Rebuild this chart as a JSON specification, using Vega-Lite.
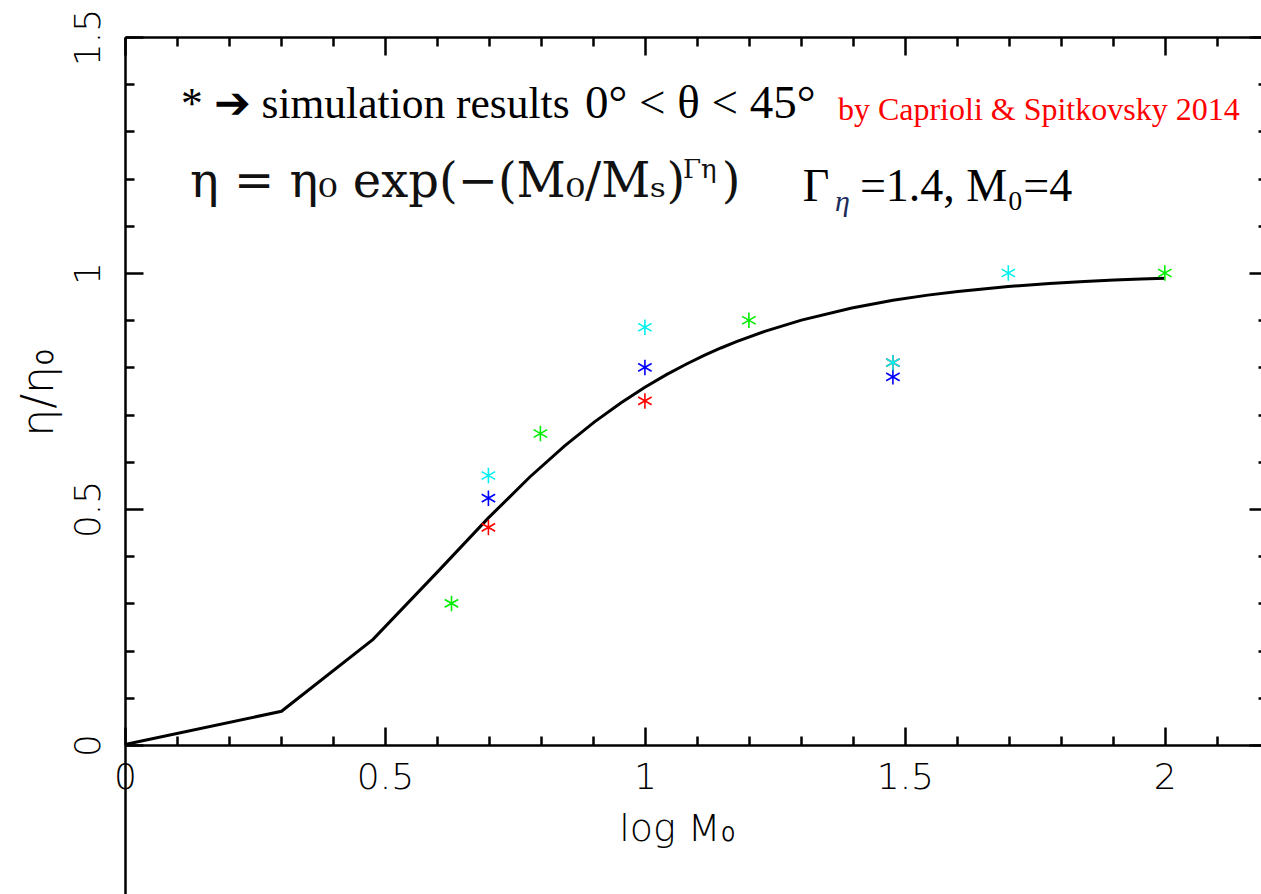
{
  "$schema": "https://vega.github.io/schema/vega-lite/v6.json",
  "autosize": "none",
  "width": 1136,
  "height": 857,
  "padding": {"left": 125, "top": 37, "right": 0, "bottom": 0},
  "background": "white",
  "config": {
    "view": {"stroke": null},
    "axis": {
      "grid": false,
      "domainColor": "black",
      "tickColor": "black",
      "domainWidth": 2.5,
      "tickWidth": 2.5,
      "labelColor": "black",
      "titleColor": "black",
      "labelFont": "DejaVu Sans",
      "titleFont": "DejaVu Sans",
      "labelFontWeight": 300,
      "titleFontWeight": 300,
      "labelFlush": false,
      "labelOverlap": false
    }
  },
  "data": {"values": [{}]},
  "datasets": {
    "curve": [
      {"logM": 0, "eta": 0.001},
      {"logM": 0.30103, "eta": 0.0714},
      {"logM": 0.47712, "eta": 0.2237},
      {"logM": 0.60206, "eta": 0.3679},
      {"logM": 0.69897, "eta": 0.4811},
      {"logM": 0.77815, "eta": 0.5673},
      {"logM": 0.8451, "eta": 0.6333},
      {"logM": 0.90309, "eta": 0.6846},
      {"logM": 0.95424, "eta": 0.7252},
      {"logM": 1, "eta": 0.7579},
      {"logM": 1.04139, "eta": 0.7846},
      {"logM": 1.07918, "eta": 0.8067},
      {"logM": 1.11394, "eta": 0.8253},
      {"logM": 1.14613, "eta": 0.8411},
      {"logM": 1.17609, "eta": 0.8545},
      {"logM": 1.23045, "eta": 0.8764},
      {"logM": 1.30103, "eta": 0.9002},
      {"logM": 1.39794, "eta": 0.926},
      {"logM": 1.47712, "eta": 0.9422},
      {"logM": 1.54407, "eta": 0.9531},
      {"logM": 1.60206, "eta": 0.961},
      {"logM": 1.69897, "eta": 0.9713},
      {"logM": 1.77815, "eta": 0.9777},
      {"logM": 1.8451, "eta": 0.982},
      {"logM": 1.90309, "eta": 0.985},
      {"logM": 1.95424, "eta": 0.9873},
      {"logM": 2, "eta": 0.989}
    ],
    "sims": [
      {"logM": 0.699, "eta": 0.461, "set": "g1"},
      {"logM": 1.0, "eta": 0.729, "set": "g1"},
      {"logM": 1.477, "eta": 0.81, "set": "g1"},
      {"logM": 0.699, "eta": 0.523, "set": "g2"},
      {"logM": 1.0, "eta": 0.8, "set": "g2"},
      {"logM": 1.477, "eta": 0.78, "set": "g2"},
      {"logM": 0.699, "eta": 0.571, "set": "g3"},
      {"logM": 1.0, "eta": 0.885, "set": "g3"},
      {"logM": 1.477, "eta": 0.81, "set": "g3"},
      {"logM": 1.699, "eta": 1.0, "set": "g3"},
      {"logM": 0.628, "eta": 0.3, "set": "g4"},
      {"logM": 0.799, "eta": 0.66, "set": "g4"},
      {"logM": 1.2, "eta": 0.9, "set": "g4"},
      {"logM": 2.0, "eta": 1.0, "set": "g4"}
    ]
  },
  "layer": [
    {
      "data": {"name": "curve"},
      "mark": {"type": "line", "color": "black", "strokeWidth": 3},
      "encoding": {
        "x": {
          "field": "logM", "type": "quantitative",
          "scale": {"domain": [0, 2.185], "nice": false, "zero": false},
          "axis": {
            "orient": "bottom", "offset": -149,
            "values": [0, 0.5, 1, 1.5, 2], "format": "~g",
            "tickSize": -18, "labelPadding": 33, "labelFontSize": 36,
            "title": "log M₀", "titleFontSize": 38,
            "titleX": 552, "titleY": 84, "titleAlign": "center", "titleBaseline": "middle"
          }
        },
        "y": {
          "field": "eta", "type": "quantitative",
          "scale": {"domain": [-0.3157, 1.5], "nice": false, "zero": false},
          "axis": {
            "orient": "left",
            "values": [0, 0.5, 1, 1.5], "format": "~g",
            "tickSize": -18, "labelPadding": 44, "labelFontSize": 36,
            "labelAngle": -90, "labelAlign": "center", "labelBaseline": "alphabetic",
            "title": "η/η₀", "titleFontSize": 44,
            "titleX": -86, "titleY": 355, "titleAlign": "center", "titleBaseline": "middle", "titleAngle": -90
          }
        }
      }
    },
    {
      "data": {"name": "sims"},
      "mark": {
        "type": "point",
        "shape": "M0,-1L0,1M-0.87,-0.5L0.87,0.5M-0.87,0.5L0.87,-0.5",
        "filled": false, "strokeWidth": 1.6, "size": 240, "opacity": 1
      },
      "encoding": {
        "x": {
          "field": "logM", "type": "quantitative",
          "scale": {"domain": [0, 2.185], "nice": false, "zero": false},
          "axis": {
            "orient": "bottom", "offset": -149,
            "values": [0.1, 0.2, 0.3, 0.4, 0.6, 0.7, 0.8, 0.9, 1.1, 1.2, 1.3, 1.4, 1.6, 1.7, 1.8, 1.9, 2.1],
            "tickSize": -9, "labels": false, "domain": false, "title": null
          }
        },
        "y": {
          "field": "eta", "type": "quantitative",
          "scale": {"domain": [-0.3157, 1.5], "nice": false, "zero": false},
          "axis": {
            "orient": "left",
            "values": [0.1, 0.2, 0.3, 0.4, 0.6, 0.7, 0.8, 0.9, 1.1, 1.2, 1.3, 1.4],
            "tickSize": -9, "labels": false, "domain": false, "title": null
          }
        },
        "color": {
          "field": "set", "type": "nominal",
          "scale": {"domain": ["g1", "g2", "g3", "g4"], "range": ["#ff0000", "#0000ff", "#00f0f0", "#00ee00"]},
          "legend": null
        }
      }
    },
    {
      "mark": {"type": "text", "text": "* ➔ simulation results", "font": "Liberation Serif", "fontSize": 43.5, "align": "left", "baseline": "alphabetic", "color": "black"},
      "encoding": {
        "x": {
          "datum": 0.1077, "type": "quantitative",
          "scale": {"domain": [0, 2.185], "nice": false, "zero": false},
          "axis": {"orient": "top", "values": [0, 0.5, 1, 1.5, 2], "tickSize": -18, "labels": false, "title": null}
        },
        "y": {
          "datum": 1.3284, "type": "quantitative",
          "scale": {"domain": [-0.3157, 1.5], "nice": false, "zero": false},
          "axis": {"orient": "right", "offset": 6, "values": [0, 0.5, 1, 1.5], "tickSize": -18, "labels": false, "title": null}
        }
      }
    },
    {
      "mark": {"type": "text", "text": "by Caprioli & Spitkovsky 2014", "font": "Liberation Serif", "fontSize": 32, "align": "left", "baseline": "alphabetic", "color": "#ff0000"},
      "encoding": {
        "x": {
          "datum": 1.3712, "type": "quantitative",
          "scale": {"domain": [0, 2.185], "nice": false, "zero": false},
          "axis": {
            "orient": "top",
            "values": [0.1, 0.2, 0.3, 0.4, 0.6, 0.7, 0.8, 0.9, 1.1, 1.2, 1.3, 1.4, 1.6, 1.7, 1.8, 1.9, 2.1],
            "tickSize": -9, "labels": false, "domain": false, "title": null
          }
        },
        "y": {
          "datum": 1.3242, "type": "quantitative",
          "scale": {"domain": [-0.3157, 1.5], "nice": false, "zero": false},
          "axis": {
            "orient": "right", "offset": 6,
            "values": [0.1, 0.2, 0.3, 0.4, 0.6, 0.7, 0.8, 0.9, 1.1, 1.2, 1.3, 1.4],
            "tickSize": -9, "labels": false, "domain": false, "title": null
          }
        }
      }
    },
    {
      "mark": {"type": "text", "text": "0°  <  θ  <  45°", "font": "Liberation Serif", "fontSize": 47, "align": "left", "baseline": "alphabetic", "color": "black"},
      "encoding": {
        "x": {"datum": 0.8846, "type": "quantitative", "scale": {"domain": [0, 2.185], "nice": false, "zero": false}, "axis": null},
        "y": {"datum": 1.3284, "type": "quantitative", "scale": {"domain": [-0.3157, 1.5], "nice": false, "zero": false}, "axis": null}
      }
    },
    {
      "mark": {"type": "text", "text": "η = η₀ exp(−(M₀/Mₛ)", "font": "DejaVu Serif", "fontSize": 48, "align": "left", "baseline": "alphabetic", "color": "#111111"},
      "encoding": {
        "x": {"datum": 0.125, "type": "quantitative", "scale": {"domain": [0, 2.185], "nice": false, "zero": false}, "axis": null},
        "y": {"datum": 1.161, "type": "quantitative", "scale": {"domain": [-0.3157, 1.5], "nice": false, "zero": false}, "axis": null}
      }
    },
    {
      "mark": {"type": "text", "text": "Γη", "font": "DejaVu Serif", "fontSize": 26, "align": "left", "baseline": "alphabetic", "color": "#111111"},
      "encoding": {
        "x": {"datum": 1.0731, "type": "quantitative", "scale": {"domain": [0, 2.185], "nice": false, "zero": false}, "axis": null},
        "y": {"datum": 1.2013, "type": "quantitative", "scale": {"domain": [-0.3157, 1.5], "nice": false, "zero": false}, "axis": null}
      }
    },
    {
      "mark": {"type": "text", "text": ")", "font": "DejaVu Serif", "fontSize": 48, "align": "left", "baseline": "alphabetic", "color": "#111111"},
      "encoding": {
        "x": {"datum": 1.148, "type": "quantitative", "scale": {"domain": [0, 2.185], "nice": false, "zero": false}, "axis": null},
        "y": {"datum": 1.161, "type": "quantitative", "scale": {"domain": [-0.3157, 1.5], "nice": false, "zero": false}, "axis": null}
      }
    },
    {
      "mark": {"type": "text", "text": "Γ", "font": "Liberation Serif", "fontSize": 46, "align": "left", "baseline": "alphabetic", "color": "black"},
      "encoding": {
        "x": {"datum": 1.3038, "type": "quantitative", "scale": {"domain": [0, 2.185], "nice": false, "zero": false}, "axis": null},
        "y": {"datum": 1.1525, "type": "quantitative", "scale": {"domain": [-0.3157, 1.5], "nice": false, "zero": false}, "axis": null}
      }
    },
    {
      "mark": {"type": "text", "text": "η", "font": "Liberation Serif", "fontSize": 30, "fontStyle": "italic", "align": "left", "baseline": "alphabetic", "color": "#1a2a5a"},
      "encoding": {
        "x": {"datum": 1.3654, "type": "quantitative", "scale": {"domain": [0, 2.185], "nice": false, "zero": false}, "axis": null},
        "y": {"datum": 1.1314, "type": "quantitative", "scale": {"domain": [-0.3157, 1.5], "nice": false, "zero": false}, "axis": null}
      }
    },
    {
      "mark": {"type": "text", "text": "=1.4, M₀=4", "font": "Liberation Serif", "fontSize": 46, "align": "left", "baseline": "alphabetic", "color": "black"},
      "encoding": {
        "x": {"datum": 1.4135, "type": "quantitative", "scale": {"domain": [0, 2.185], "nice": false, "zero": false}, "axis": null},
        "y": {"datum": 1.1525, "type": "quantitative", "scale": {"domain": [-0.3157, 1.5], "nice": false, "zero": false}, "axis": null}
      }
    }
  ],
  "resolve": {"axis": {"x": "independent", "y": "independent"}}
}
